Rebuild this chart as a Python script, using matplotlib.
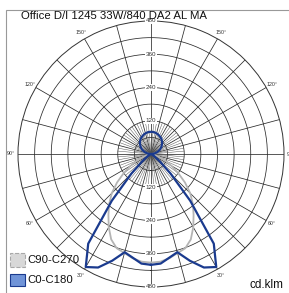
import numpy as np
import matplotlib
matplotlib.use("Agg")
import matplotlib.pyplot as plt
from matplotlib.patches import Rectangle

plt.rcParams['font.family'] = ['Liberation Sans', 'DejaVu Sans']

title = "Office D/I 1245 33W/840 DA2 AL MA"
unit = "cd.klm"

# gamma angles (deg), 0 = nadir, 180 = zenith
gamma = [0, 5, 10, 15, 20, 25, 30, 35, 40, 45, 50, 55, 60, 65, 70, 75, 80, 85, 90,
         95, 100, 105, 110, 115, 120, 125, 130, 135, 140, 145, 150, 155, 160, 165, 170, 175, 180]

# C0-C180 plane
c0 = [400, 397, 380, 367, 410, 452, 471, 395, 220, 100, 42, 18, 8, 4, 2, 1, 0, 0, 0,
      7, 14, 21, 27, 34, 40, 46, 51, 57, 61, 66, 69, 72, 75, 77, 79, 80, 80]
# C90-C270 plane
c90 = [392, 390, 382, 370, 362, 340, 305, 268, 235, 200, 160, 120, 85, 55, 30, 15, 6, 2, 0,
       7, 14, 20, 26, 33, 39, 45, 50, 55, 60, 64, 67, 70, 73, 75, 77, 78, 78]

rings = [60, 120, 180, 240, 300, 360, 420, 480]
ring_labels = [120, 240, 360, 480]
angle_labels = [30, 60, 90, 120, 150]

W, H = 289, 293
fig = plt.figure(figsize=(W / 100, H / 100), dpi=100)
cx, cy, R = 151, 154, 133
ax = fig.add_axes([(cx - R) / W, (H - cy - R) / H, 2 * R / W, 2 * R / H], projection='polar')
ax.set_theta_zero_location('S')
ax.set_theta_direction(1)
ax.set_ylim(0, 480)
ax.grid(False)
ax.set_xticks([])
ax.set_yticks([])
ax.spines['polar'].set_linewidth(0.7)
ax.spines['polar'].set_color('#333333')

gc = '#2a2a2a'
th = np.linspace(0, 2 * np.pi, 400)
for r in rings[:-1]:
    ax.plot(th, np.full_like(th, r), color=gc, lw=0.55, zorder=1)
for a in range(0, 360, 15):
    ax.plot([np.radians(a)] * 2, [0, 480], color=gc, lw=0.55, zorder=1)
for a in range(0, 360, 5):
    if a % 15:
        ax.plot([np.radians(a)] * 2, [0, 120], color='#555555', lw=0.35, zorder=1)

for v in ring_labels:
    for t in (0, np.pi):
        ax.text(t, v, str(v), ha='center', va='center', fontsize=4.5, color='#333333',
                bbox=dict(boxstyle='square,pad=0.1', fc='white', ec='none'), zorder=3)

for a in angle_labels:
    for s in (1, -1):
        ax.text(np.radians(s * a), 505, f"{a}°", ha='center', va='center', fontsize=3.8,
                color='#333333', clip_on=False)

g = np.radians(gamma)
ax.plot(np.concatenate([g, -g[::-1]]), c90 + c90[::-1], color='#b4b4b4', lw=1.3, zorder=4)
ax.plot(np.concatenate([g, -g[::-1]]), c0 + c0[::-1], color='#1a3a8e', lw=1.6, zorder=5)

# frame
fig.add_artist(Rectangle((6 / W, -0.1), 1.2, (H - 10) / H + 0.1, transform=fig.transFigure,
                         fill=False, ec='#999999', lw=0.8))

fig.text(21 / W, 1 - 16 / H, title, fontsize=8.2, va='center', ha='left', color='#111111')

fig.add_artist(Rectangle((10 / W, 1 - 267 / H), 15 / W, 14 / H, transform=fig.transFigure,
                         fc='#d8d8d8', ec='#a8a8a8', lw=0.8, ls='--'))
fig.add_artist(Rectangle((10 / W, 1 - 286 / H), 15 / W, 12 / H, transform=fig.transFigure,
                         fc='#7094d8', ec='#1a3a8e', lw=0.8))
fig.text(27 / W, 1 - 260 / H, "C90-C270", fontsize=8.2, va='center', ha='left', color='#111111')
fig.text(27 / W, 1 - 280 / H, "C0-C180", fontsize=8.2, va='center', ha='left', color='#111111')
fig.text(283 / W, 1 - 285 / H, unit, fontsize=8.5, va='center', ha='right', color='#111111')

fig.savefig("out.png", dpi=100)
